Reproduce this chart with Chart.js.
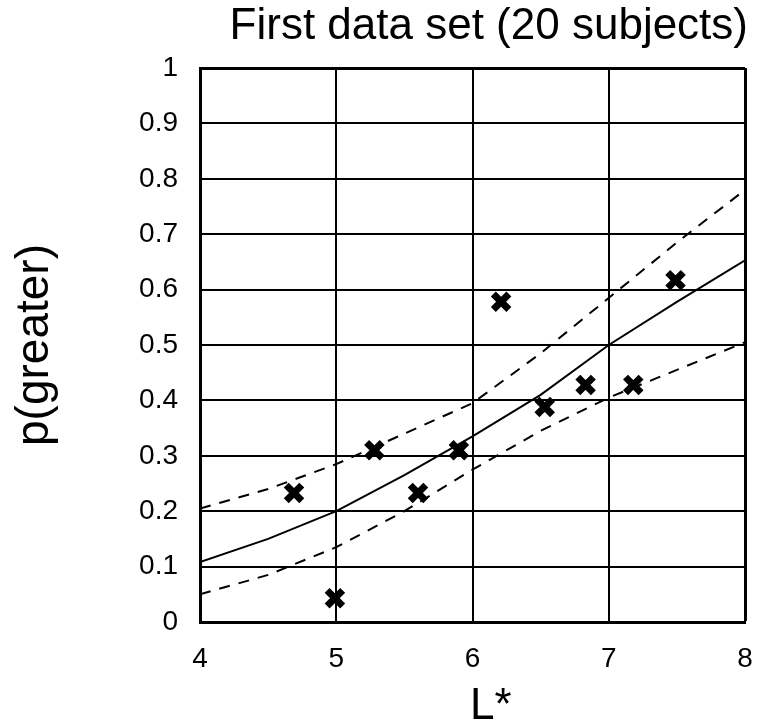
<!doctype html>
<html lang="en">
<head>
<meta charset="utf-8" />
<title>First data set (20 subjects)</title>
<script src="https://cdn.jsdelivr.net/npm/chart.js@4.4.4/dist/chart.umd.min.js"></script>
<style>
  html, body { margin: 0; padding: 0; background: #fff; }
  #wrap { width: 763px; height: 727px; }
</style>
</head>
<body>
<div id="wrap"><canvas id="chart"></canvas></div>
<script>
// observed responses (crosses)
const obsL = [4.69, 4.99, 5.28, 5.6, 5.9, 6.21, 6.53, 6.83, 7.18, 7.49];
const obsP = [0.233, 0.043, 0.31, 0.233, 0.31, 0.578, 0.388, 0.428, 0.428, 0.617];

// fitted curve and its confidence band, read at these L* values
const fitL = [4, 4.5, 5, 5.5, 6, 6.5, 7, 7.5, 8];
const fitP = [0.108, 0.15, 0.2, 0.265, 0.335, 0.41, 0.5, 0.578, 0.653];
const upperP = [0.205, 0.24, 0.285, 0.34, 0.395, 0.485, 0.585, 0.685, 0.78];
const lowerP = [0.05, 0.085, 0.135, 0.2, 0.275, 0.345, 0.405, 0.455, 0.505];

const xTicks = [4, 5, 6, 7, 8];
const yTicks = [0, 0.1, 0.2, 0.3, 0.4, 0.5, 0.6, 0.7, 0.8, 0.9, 1];
const yTickLabels = ["0", "0.1", "0.2", "0.3", "0.4", "0.5", "0.6", "0.7", "0.8", "0.9", "1"];

const FONT = '"Liberation Sans", Arial, Helvetica, sans-serif';
const pts = (xs, ys) => xs.map((x, i) => ({ x, y: ys[i] }));

const lineStyle = (dash) => ({
  type: "line",
  borderColor: "#000",
  borderWidth: 2,
  borderDash: dash,
  pointRadius: 0,
  fill: false,
  tension: 0,
});

new Chart(document.getElementById("chart"), {
  type: "scatter",
  data: {
    datasets: [
      {
        label: "observed",
        data: pts(obsL, obsP),
        pointStyle: "crossRot",
        pointRadius: 11,
        pointBorderWidth: 7,
        borderColor: "#000",
        backgroundColor: "#000",
      },
      { label: "fit", data: pts(fitL, fitP), ...lineStyle([]) },
      { label: "upper", data: pts(fitL, upperP), ...lineStyle([11, 9]) },
      { label: "lower", data: pts(fitL, lowerP), ...lineStyle([11, 9]) },
    ],
  },
  options: {
    responsive: true,
    maintainAspectRatio: false,
    animation: false,
    events: [],
    layout: { padding: { left: 0, right: 15, top: 0, bottom: 0 } },
    plugins: {
      legend: { display: false },
      tooltip: { enabled: false },
      title: {
        display: true,
        text: "First data set (20 subjects)",
        align: "end",
        color: "#000",
        font: { family: FONT, size: 44, weight: "normal", lineHeight: 1.2 },
        padding: { top: 0, bottom: 15.2 },
      },
    },
    scales: {
      x: {
        type: "linear",
        min: 4,
        max: 8,
        afterBuildTicks: (s) => { s.ticks = xTicks.map((v) => ({ value: v })); },
        // no extra room for the "8" label: plot runs right up to the layout padding
        afterFit: (s) => { s.height = 105; s.paddingRight = 0; s.paddingLeft = 0; },
        ticks: { color: "#000", padding: 20, font: { family: FONT, size: 28 } },
        grid: { color: "#000", lineWidth: (c) => (c.tick && c.tick.value === 8 ? 3 : 2), drawTicks: false },
        border: { color: "#000", width: 3 },
        title: {
          display: true,
          // leading spaces nudge the label right of centre, as in the source figure
          text: "   L*",
          color: "#000",
          font: { family: FONT, size: 44, lineHeight: 1.2 },
          padding: { top: 0, bottom: -6 },
        },
      },
      y: {
        type: "linear",
        min: 0,
        max: 1,
        afterBuildTicks: (s) => { s.ticks = yTicks.map((v) => ({ value: v })); },
        afterFit: (s) => { s.width = 200; },
        ticks: {
          color: "#000",
          padding: 22,
          font: { family: FONT, size: 28 },
          callback: (v, i) => yTickLabels[i],
        },
        grid: { color: "#000", lineWidth: (c) => (c.tick && c.tick.value === 1 ? 3 : 2), drawTicks: false },
        border: { color: "#000", width: 3 },
        title: {
          display: true,
          text: "p(greater)",
          color: "#000",
          font: { family: FONT, size: 46, lineHeight: 1.2 },
          padding: { top: 8, bottom: 0 },
        },
      },
    },
  },
});
</script>
</body>
</html>
